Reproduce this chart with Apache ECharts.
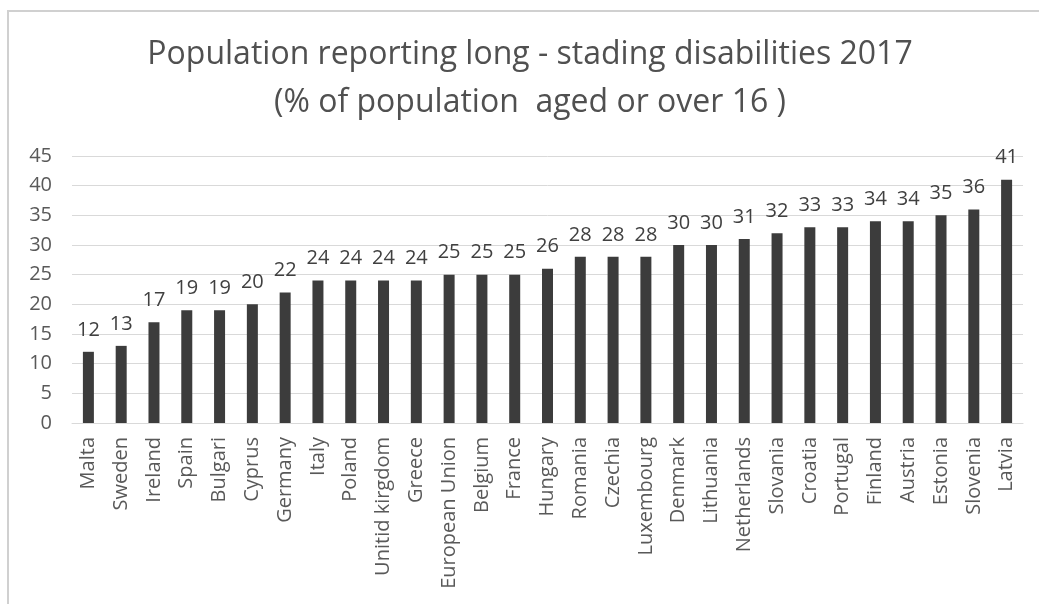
<!DOCTYPE html>
<html>
<head>
<meta charset="utf-8">
<script src="https://cdn.jsdelivr.net/npm/echarts@6/dist/echarts.min.js"></script>
<style>
    html, body { margin: 0; padding: 0; background: #fff; }
    #chart { width: 1039px; height: 604px; }
</style>
</head>
<body>
<div id="chart"></div>
<script>
// countries, sorted as in the source picture
const countries = [
    "Malta", "Sweden", "Ireland", "Spain", "Bulgari", "Cyprus", "Germany",
    "Italy", "Poland", "Unitid kirgdom", "Greece", "European Union", "Belgium",
    "France", "Hungary", "Romania", "Czechia", "Luxembourg", "Denmark",
    "Lithuania", "Netherlands", "Slovania", "Croatia", "Portugal", "Finland",
    "Austria", "Estonia", "Slovenia", "Latvia"
];
// % of population aged 16 or over
const shares = [
    12, 13, 17, 19, 19, 20, 22, 24, 24, 24, 24, 25, 25,
    25, 26, 28, 28, 28, 30, 30, 31, 32, 33, 33, 34,
    34, 35, 36, 41
];
const yTicks = { min: 0, max: 45, interval: 5 };

const font = "Open Sans";
const textGrey = "#595959";

const chart = echarts.init(document.getElementById("chart"));

const option = {
    backgroundColor: "#fff",
    animation: false,
    textStyle: { fontFamily: font },
    graphic: [
        {
            // chart area frame (only left and top edges are in the picture)
            type: "rect",
            shape: { x: 8, y: 11, width: 1100, height: 700 },
            style: { fill: "none", stroke: "#d0d0d0", lineWidth: 2 },
            silent: true
        }
    ],
    title: {
        text: "Population reporting long - stading disabilities 2017\n(% of population  aged or over 16 )",
        left: 530,
        top: 31,
        padding: 0,
        textAlign: "center",
        textStyle: {
            fontFamily: font,
            fontSize: 32,
            fontWeight: "normal",
            color: "#505050",
            lineHeight: 48
        }
    },
    grid: {
        left: 72,
        top: 156,
        width: 951,
        height: 267,
        containLabel: false
    },
    xAxis: {
        type: "category",
        data: countries,
        axisLine: { lineStyle: { color: "#d9d9d9", width: 1 } },
        axisTick: { show: false },
        axisLabel: {
            interval: 0,
            rotate: 90,
            margin: 14,
            fontFamily: font,
            fontSize: 20,
            color: textGrey
        }
    },
    yAxis: {
        type: "value",
        min: yTicks.min,
        max: yTicks.max,
        interval: yTicks.interval,
        axisLine: { show: false },
        axisTick: { show: false },
        splitLine: { lineStyle: { color: "#d9d9d9", width: 1 } },
        axisLabel: {
            margin: 20,
            fontFamily: font,
            fontSize: 20,
            color: textGrey
        }
    },
    series: [
        {
            type: "bar",
            data: shares,
            barWidth: 11,
            itemStyle: { color: "#3c3c3c" },
            label: {
                show: true,
                position: "top",
                distance: 12,
                fontFamily: font,
                fontSize: 20,
                color: "#404040"
            }
        }
    ]
};

chart.setOption(option);
</script>
</body>
</html>
